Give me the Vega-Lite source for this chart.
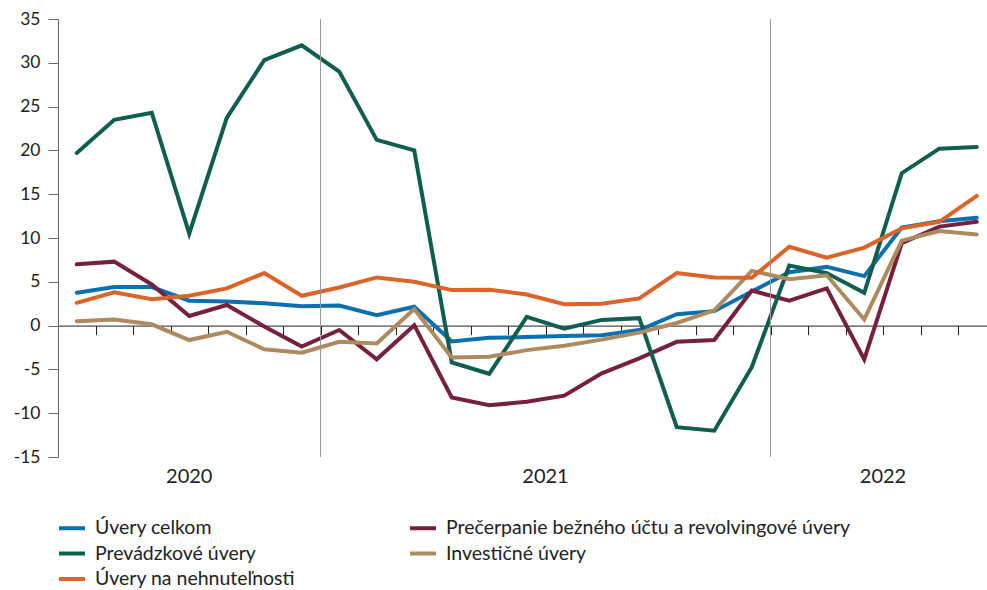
{
  "$schema": "https://vega.github.io/schema/vega-lite/v6.json",
  "width": 929,
  "height": 438,
  "autosize": {"type": "none"},
  "padding": {"left": 58, "top": 19, "right": 0, "bottom": 133},
  "config": {
    "view": {"stroke": null},
    "font": "Lato",
    "axis": {"grid": false}
  },
  "datasets": {
    "rates": [
      {"month": "2020-06", "Úvery celkom": 3.75, "Prečerpanie bežného účtu a revolvingové úvery": 7.0, "Prevádzkové úvery": 19.7, "Investičné úvery": 0.5, "Úvery na nehnuteľnosti": 2.6},
      {"month": "2020-07", "Úvery celkom": 4.4, "Prečerpanie bežného účtu a revolvingové úvery": 7.3, "Prevádzkové úvery": 23.5, "Investičné úvery": 0.7, "Úvery na nehnuteľnosti": 3.8},
      {"month": "2020-08", "Úvery celkom": 4.4, "Prečerpanie bežného účtu a revolvingové úvery": 4.7, "Prevádzkové úvery": 24.3, "Investičné úvery": 0.15, "Úvery na nehnuteľnosti": 3.0},
      {"month": "2020-09", "Úvery celkom": 2.85, "Prečerpanie bežného účtu a revolvingové úvery": 1.1, "Prevádzkové úvery": 10.5, "Investičné úvery": -1.65, "Úvery na nehnuteľnosti": 3.4},
      {"month": "2020-10", "Úvery celkom": 2.75, "Prečerpanie bežného účtu a revolvingové úvery": 2.35, "Prevádzkové úvery": 23.7, "Investičné úvery": -0.7, "Úvery na nehnuteľnosti": 4.25},
      {"month": "2020-11", "Úvery celkom": 2.55, "Prečerpanie bežného účtu a revolvingové úvery": -0.1, "Prevádzkové úvery": 30.3, "Investičné úvery": -2.7, "Úvery na nehnuteľnosti": 6.0},
      {"month": "2020-12", "Úvery celkom": 2.2, "Prečerpanie bežného účtu a revolvingové úvery": -2.4, "Prevádzkové úvery": 32.0, "Investičné úvery": -3.1, "Úvery na nehnuteľnosti": 3.4},
      {"month": "2021-01", "Úvery celkom": 2.3, "Prečerpanie bežného účtu a revolvingové úvery": -0.5, "Prevádzkové úvery": 29.0, "Investičné úvery": -1.85, "Úvery na nehnuteľnosti": 4.35},
      {"month": "2021-02", "Úvery celkom": 1.2, "Prečerpanie bežného účtu a revolvingové úvery": -3.85, "Prevádzkové úvery": 21.2, "Investičné úvery": -2.05, "Úvery na nehnuteľnosti": 5.5},
      {"month": "2021-03", "Úvery celkom": 2.15, "Prečerpanie bežného účtu a revolvingové úvery": 0.05, "Prevádzkové úvery": 20.0, "Investičné úvery": 1.9, "Úvery na nehnuteľnosti": 5.0},
      {"month": "2021-04", "Úvery celkom": -1.8, "Prečerpanie bežného účtu a revolvingové úvery": -8.2, "Prevádzkové úvery": -4.2, "Investičné úvery": -3.65, "Úvery na nehnuteľnosti": 4.05},
      {"month": "2021-05", "Úvery celkom": -1.4, "Prečerpanie bežného účtu a revolvingové úvery": -9.1, "Prevádzkové úvery": -5.5, "Investičné úvery": -3.55, "Úvery na nehnuteľnosti": 4.1},
      {"month": "2021-06", "Úvery celkom": -1.3, "Prečerpanie bežného účtu a revolvingové úvery": -8.7, "Prevádzkové úvery": 1.0, "Investičné úvery": -2.8, "Úvery na nehnuteľnosti": 3.55},
      {"month": "2021-07", "Úvery celkom": -1.2, "Prečerpanie bežného účtu a revolvingové úvery": -8.0, "Prevádzkové úvery": -0.35, "Investičné úvery": -2.3, "Úvery na nehnuteľnosti": 2.45},
      {"month": "2021-08", "Úvery celkom": -1.1, "Prečerpanie bežného účtu a revolvingové úvery": -5.45, "Prevádzkové úvery": 0.65, "Investičné úvery": -1.6, "Úvery na nehnuteľnosti": 2.5},
      {"month": "2021-09", "Úvery celkom": -0.5, "Prečerpanie bežného účtu a revolvingové úvery": -3.75, "Prevádzkové úvery": 0.85, "Investičné úvery": -0.8, "Úvery na nehnuteľnosti": 3.1},
      {"month": "2021-10", "Úvery celkom": 1.3, "Prečerpanie bežného účtu a revolvingové úvery": -1.85, "Prevádzkové úvery": -11.6, "Investičné úvery": 0.3, "Úvery na nehnuteľnosti": 6.0},
      {"month": "2021-11", "Úvery celkom": 1.65, "Prečerpanie bežného účtu a revolvingové úvery": -1.65, "Prevádzkové úvery": -12.0, "Investičné úvery": 1.75, "Úvery na nehnuteľnosti": 5.5},
      {"month": "2021-12", "Úvery celkom": 3.9, "Prečerpanie bežného účtu a revolvingové úvery": 4.0, "Prevádzkové úvery": -4.75, "Investičné úvery": 6.25, "Úvery na nehnuteľnosti": 5.45},
      {"month": "2022-01", "Úvery celkom": 6.1, "Prečerpanie bežného účtu a revolvingové úvery": 2.85, "Prevádzkové úvery": 6.85, "Investičné úvery": 5.3, "Úvery na nehnuteľnosti": 9.0},
      {"month": "2022-02", "Úvery celkom": 6.7, "Prečerpanie bežného účtu a revolvingové úvery": 4.25, "Prevádzkové úvery": 6.0, "Investičné úvery": 5.75, "Úvery na nehnuteľnosti": 7.75},
      {"month": "2022-03", "Úvery celkom": 5.65, "Prečerpanie bežného účtu a revolvingové úvery": -3.85, "Prevádzkové úvery": 3.75, "Investičné úvery": 0.7, "Úvery na nehnuteľnosti": 8.9},
      {"month": "2022-04", "Úvery celkom": 11.2, "Prečerpanie bežného účtu a revolvingové úvery": 9.4, "Prevádzkové úvery": 17.4, "Investičné úvery": 9.7, "Úvery na nehnuteľnosti": 11.1},
      {"month": "2022-05", "Úvery celkom": 11.9, "Prečerpanie bežného účtu a revolvingové úvery": 11.3, "Prevádzkové úvery": 20.2, "Investičné úvery": 10.8, "Úvery na nehnuteľnosti": 11.85},
      {"month": "2022-06", "Úvery celkom": 12.3, "Prečerpanie bežného účtu a revolvingové úvery": 11.85, "Prevádzkové úvery": 20.4, "Investičné úvery": 10.4, "Úvery na nehnuteľnosti": 14.8}
    ],
    "yearEnds": [
      {"month": "2020-12"},
      {"month": "2021-12"}
    ]
  },
  "resolve": {"axis": {"x": "independent"}},
  "layer": [
    {
      "data": {"name": "rates"},
      "transform": [
        {"fold": ["Úvery celkom", "Prečerpanie bežného účtu a revolvingové úvery", "Prevádzkové úvery", "Investičné úvery", "Úvery na nehnuteľnosti"], "as": ["series", "value"]}
      ],
      "mark": {"type": "line", "strokeWidth": 4, "strokeCap": "round"},
      "encoding": {
        "x": {
          "field": "month", "type": "ordinal",
          "scale": {"type": "band", "domain": ["2020-06","2020-07","2020-08","2020-09","2020-10","2020-11","2020-12","2021-01","2021-02","2021-03","2021-04","2021-05","2021-06","2021-07","2021-08","2021-09","2021-10","2021-11","2021-12","2022-01","2022-02","2022-03","2022-04","2022-05","2022-06"], "range": [0, 937.5], "paddingInner": 0, "paddingOuter": 0},
          "axis": {"orient": "bottom", "offset": -131.4, "labels": false, "title": null, "domain": true, "domainColor": "#222", "domainWidth": 1, "ticks": true, "tickBand": "extent", "tickSize": 9, "tickColor": "#222", "tickWidth": 1, "grid": false}
        },
        "y": {
          "field": "value", "type": "quantitative",
          "scale": {"domain": [-15, 35], "nice": false, "zero": false},
          "axis": {"values": [-15, -10, -5, 0, 5, 10, 15, 20, 25, 30, 35], "labelExpr": "toString(datum.value)", "title": null, "domainColor": "#666", "tickColor": "#666", "tickSize": 10, "labelPadding": 8, "labelFontSize": 17.5, "labelColor": "#222", "grid": false}
        },
        "color": {
          "field": "series", "type": "nominal",
          "scale": {
            "domain": ["Úvery celkom", "Prevádzkové úvery", "Úvery na nehnuteľnosti", "Prečerpanie bežného účtu a revolvingové úvery", "Investičné úvery"],
            "range": ["#0b6fb0", "#0f5e50", "#dc6428", "#76203f", "#ae8a5f"]
          },
          "legend": {"orient": "none", "legendX": -1, "legendY": 494, "columns": 2, "title": null, "symbolType": "stroke", "symbolStrokeWidth": 4, "symbolSize": 676, "labelFontSize": 19.5, "labelColor": "#222", "labelOffset": 8, "columnPadding": 106, "rowPadding": 0.5, "labelLimit": 600}
        }
      }
    },
    {
      "data": {"name": "yearEnds"},
      "mark": {"type": "rule", "color": "#999", "strokeWidth": 1},
      "encoding": {
        "x": {
          "field": "month", "type": "ordinal", "bandPosition": 1,
          "scale": {"type": "band", "domain": ["2020-06","2020-07","2020-08","2020-09","2020-10","2020-11","2020-12","2021-01","2021-02","2021-03","2021-04","2021-05","2021-06","2021-07","2021-08","2021-09","2021-10","2021-11","2021-12","2022-01","2022-02","2022-03","2022-04","2022-05","2022-06"], "range": [0, 937.5], "paddingInner": 0, "paddingOuter": 0},
          "axis": {"orient": "bottom", "domain": false, "ticks": false, "title": null, "grid": false, "labelAngle": 0, "labelBound": false, "labelOverlap": false, "labelExpr": "datum.value == '2020-09' ? '2020' : datum.value == '2021-06' ? '2021' : datum.value == '2022-03' ? '2022' : ''", "labelOffset": {"condition": {"test": "datum.value == '2020-09'", "value": 0}, "value": 18.75}, "labelFontSize": 20, "labelColor": "#222", "labelPadding": 9}
        }
      }
    }
  ]
}
